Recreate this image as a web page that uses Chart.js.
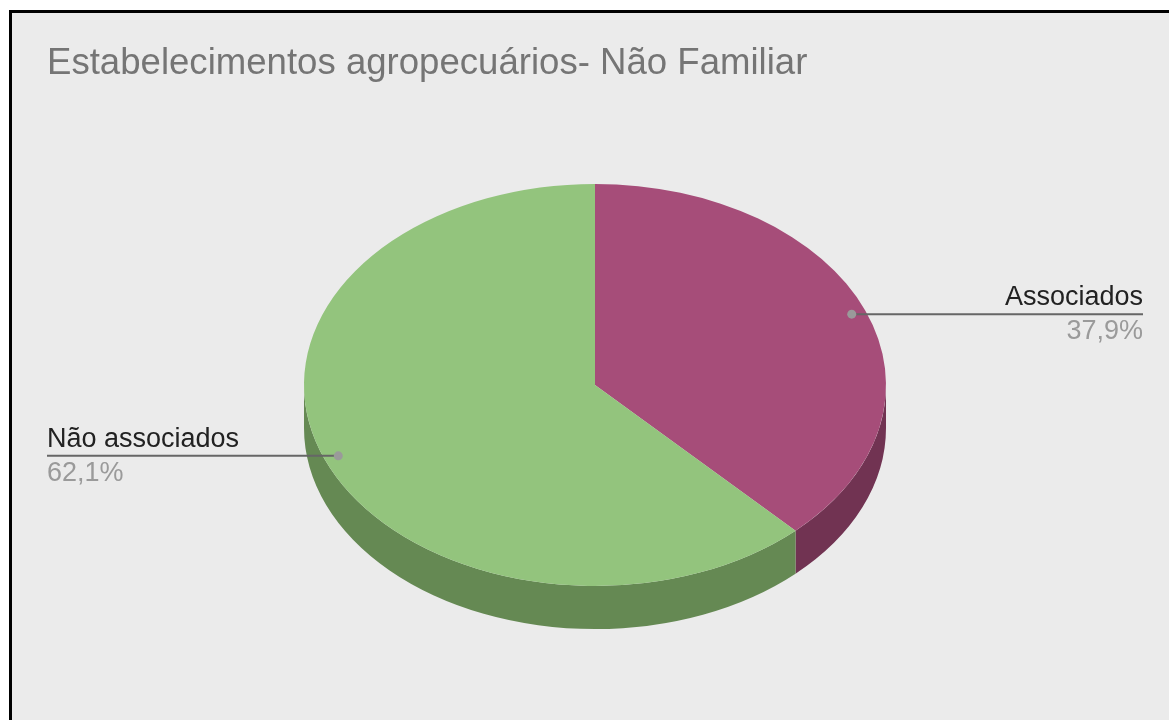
<!DOCTYPE html>
<html lang="pt">
<head>
    <meta charset="UTF-8">
    <title>Estabelecimentos agropecuários- Não Familiar</title>
    <script src="https://cdn.jsdelivr.net/npm/chart.js"></script>
    <style>
        html, body { margin: 0; padding: 0; background: #fff; overflow: hidden; }
        #frame {
            position: absolute; left: 9px; top: 10px;
            width: 1300px; height: 900px;
            border-left: 3px solid #000; border-top: 3px solid #000;
            background: #ebebeb;
        }
        #myChart { position: absolute; left: 0; top: 0; }
    </style>
</head>
<body>
    <div id="frame"></div>
    <canvas id="myChart" width="1169" height="720"></canvas>

    <script>
        const titleText = 'Estabelecimentos agropecuários- Não Familiar';
        const categories = ['Associados', 'Não associados'];
        const values = [37.9, 62.1];

        const topColors = ['#a64d79', '#93c47d'];
        const sideColors = ['#713352', '#658953'];

        const squash = 201 / 291;   // ellipse ratio
        const depth = 43;           // px of the 3D side

        const pie3dPlugin = {
            id: 'pie3dPlugin',
            beforeDatasetsDraw(chart) {
                const {ctx} = chart;
                const meta = chart.getDatasetMeta(0);
                const cx = meta.data[0].x, cy = meta.data[0].y;
                ctx.save();
                ctx.translate(cx, cy);
                ctx.scale(1, squash);
                ctx.translate(-cx, -cy);
                const d = depth / squash;
                meta.data.forEach((arc, i) => {
                    let a0 = arc.startAngle, a1 = arc.endAngle;
                    a0 = Math.max(a0, 0);
                    a1 = Math.min(a1, Math.PI);
                    if (a1 <= a0) return;
                    const r = arc.outerRadius;
                    ctx.beginPath();
                    ctx.arc(cx, cy, r, a0, a1);
                    ctx.arc(cx, cy + d, r, a1, a0, true);
                    ctx.closePath();
                    ctx.fillStyle = sideColors[i];
                    ctx.fill();
                });
            },
            afterDatasetsDraw(chart) {
                chart.ctx.restore();
            },
            afterDraw(chart) {
                const {ctx} = chart;
                const meta = chart.getDatasetMeta(0);
                ctx.save();
                ctx.font = '36.6px "Liberation Sans", Arial, sans-serif';
                ctx.fillStyle = '#757575';
                ctx.textBaseline = 'alphabetic';
                ctx.textAlign = 'left';
                ctx.fillText(titleText, 47, 74);

                meta.data.forEach((arc, i) => {
                    const mid = (arc.startAngle + arc.endAngle) / 2;
                    const r = arc.outerRadius * 0.95;
                    const px = arc.x + Math.cos(mid) * r;
                    const py = arc.y + Math.sin(mid) * r * squash;
                    const right = Math.cos(mid) >= 0;
                    const edge = right ? 1143 : 47;

                    ctx.strokeStyle = '#666';
                    ctx.lineWidth = 2;
                    ctx.beginPath();
                    ctx.moveTo(px, py);
                    ctx.lineTo(edge, py);
                    ctx.stroke();

                    ctx.fillStyle = '#9a9a9a';
                    ctx.beginPath();
                    ctx.arc(px, py, 4.5, 0, Math.PI * 2);
                    ctx.fill();

                    ctx.textAlign = right ? 'right' : 'left';
                    ctx.font = '27px "Liberation Sans", Arial, sans-serif';
                    ctx.fillStyle = '#222';
                    ctx.fillText(categories[i], edge, py - 9);
                    ctx.fillStyle = '#9a9a9a';
                    ctx.fillText(values[i].toFixed(1).replace('.', ',') + '%', edge, py + 25);
                });
                ctx.restore();
            }
        };

        const config = {
            type: 'pie',
            data: {
                labels: categories,
                datasets: [{
                    data: values,
                    backgroundColor: topColors,
                    borderWidth: 0,
                    hoverOffset: 0,
                    clip: false
                }]
            },
            options: {
                responsive: false,
                animation: false,
                layout: { padding: { left: 304, right: 283, top: 94, bottom: 44 } },
                plugins: {
                    legend: { display: false },
                    title: { display: false },
                    tooltip: { enabled: false }
                }
            },
            plugins: [pie3dPlugin]
        };

        const ctx = document.getElementById('myChart').getContext('2d');
        new Chart(ctx, config);
    </script>
</body>
</html>
